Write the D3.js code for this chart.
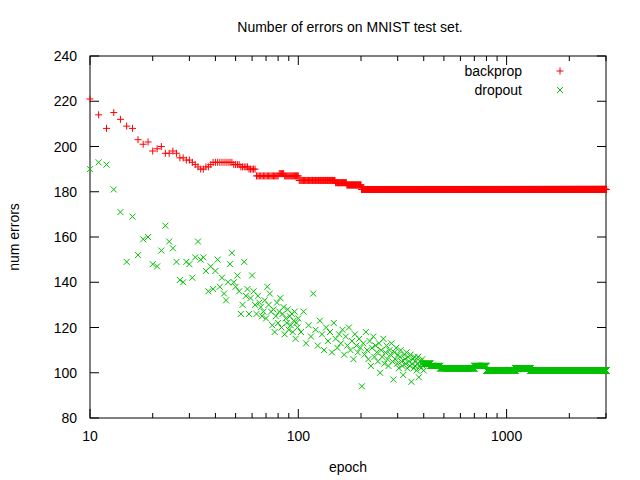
<!DOCTYPE html>
<html><head><meta charset="utf-8">
<script src="https://cdn.jsdelivr.net/npm/d3@7"></script>
<style>body{margin:0;background:#fff}text{font-family:"Liberation Sans",Arial,sans-serif;font-size:14px;fill:#000}</style>
</head><body><svg id="c" width="640" height="480"></svg>
<script>
const yTicks=[80,100,120,140,160,180,200,220,240];
const xTicks=[10,100,1000];
const seriesNames=["backprop","dropout"];
// backprop: explicit early values (epochs 10..38), then runs [start,end,value]
const backpropEarly=[221,214,208,215,212,209,208,203,201,202,198,199,200,197,197,198,197,195,195,194,194,193,192,191,190,190,191,191,192];
const backpropRuns=[[39,48,193],[49,52,192],[53,57,191],[58,62,190],[63,80,187],[81,85,188],[86,100,187],[101,150,185],[151,170,184],[171,200,183],[201,3000,181]];
// dropout: epochs 10..99
const dropoutEarly=[190,193,192,181,171,149,169,152,159,160,148,147,154,165,158,155,149,141,140,149,148,142,151,158,150,151,145,136,147,137,145,150,138,142,135,132,140,148,153,140,138,143,136,126,130,149,134,137,126,133,143,136,130,126,134,131,129,125,127,132,124,138,130,135,127,121,128,118,125,131,122,127,133,120,126,129,117,124,122,128,119,125,121,126,118,123,127,115,122,120];
// dropout: epochs 100..400 every 3
const dropoutMid=[124,118,127,113,121,116,135,119,112,123,117,110,120,114,118,109,122,115,111,117,113,119,108,116,112,120,110,114,106,117,112,109,115,111,94,113,108,118,110,106,114,103,111,116,107,112,109,105,113,100,110,107,115,104,109,112,106,103,110,108,113,105,97,109,106,111,104,108,102,107,110,105,103,99,108,106,104,109,102,107,105,103,108,96,104,106,102,107,103,105,101,104,107,98,103,105,102,104,106,103,101];
// dropout: tail runs [start,end,value]
const dropoutRuns=[[401,430,104],[431,480,103],[481,700,102],[701,800,103],[801,1100,101],[1101,1300,102],[1301,3000,101]];

const m={l:90,r:606,t:56,b:418};
const svg=d3.select("#c");
const x=d3.scaleLog().domain([10,3000]).range([m.l,m.r]);
const y=d3.scaleLinear().domain([80,240]).range([m.b,m.t]);

function expand(runs){const o=[];runs.forEach(([a,b,v])=>{for(let e=a;e<=b;e++)o.push([e,v]);});return o;}
const bp=backpropEarly.map((v,i)=>[10+i,v]).concat(expand(backpropRuns));
const dp=dropoutEarly.map((v,i)=>[10+i,v]).concat(dropoutMid.map((v,i)=>[100+3*i,v])).concat(expand(dropoutRuns));

const g=svg.append("g");
g.append("rect").attr("x",m.l).attr("y",m.t).attr("width",m.r-m.l).attr("height",m.b-m.t).attr("fill","none").attr("stroke","#000");
yTicks.forEach(t=>{
  g.append("line").attr("x1",m.l).attr("x2",m.l+9).attr("y1",y(t)).attr("y2",y(t)).attr("stroke","#000");
  g.append("line").attr("x1",m.r).attr("x2",m.r-9).attr("y1",y(t)).attr("y2",y(t)).attr("stroke","#000");
  g.append("text").attr("x",m.l-13).attr("y",y(t)+5).attr("text-anchor","end").text(t);
});
const minor=[];for(let d=10;d<=1000;d*=10)for(let k=1;k<10;k++){const v=d*k;if(v<=3000)minor.push(v);}
minor.forEach(v=>{
  const len=xTicks.includes(v)?9:5;
  g.append("line").attr("x1",x(v)).attr("x2",x(v)).attr("y1",m.b).attr("y2",m.b-len).attr("stroke","#000");
  g.append("line").attr("x1",x(v)).attr("x2",x(v)).attr("y1",m.t).attr("y2",m.t+len).attr("stroke","#000");
});
xTicks.forEach(t=>g.append("text").attr("x",x(t)).attr("y",m.b+23).attr("text-anchor","middle").text(t));
svg.append("text").attr("x",348).attr("y",472).attr("text-anchor","middle").text("epoch");
svg.append("text").attr("transform","translate(19,237) rotate(-90)").attr("text-anchor","middle").text("num errors");
svg.append("text").attr("x",350).attr("y",32).attr("text-anchor","middle").text("Number of errors on MNIST test set.");

const red="#ff0000",green="#00c000";
function plus(gg,cx,cy,c){gg.append("path").attr("d",`M${cx-3.5},${cy}h7M${cx},${cy-3.5}v7`).attr("stroke",c).attr("fill","none");}
function cross(gg,cx,cy,c){gg.append("path").attr("d",`M${cx-3},${cy-3}l6,6M${cx-3},${cy+3}l6,-6`).attr("stroke",c).attr("fill","none");}
const pg=svg.append("g");
bp.forEach(([e,v])=>plus(pg,x(e),y(v),red));
dp.forEach(([e,v])=>cross(pg,x(e),y(v),green));

svg.append("text").attr("x",522).attr("y",76).attr("text-anchor","end").text(seriesNames[0]);
plus(svg,560,71,red);
svg.append("text").attr("x",522).attr("y",95).attr("text-anchor","end").text(seriesNames[1]);
cross(svg,560,90,green);
</script></body></html>
